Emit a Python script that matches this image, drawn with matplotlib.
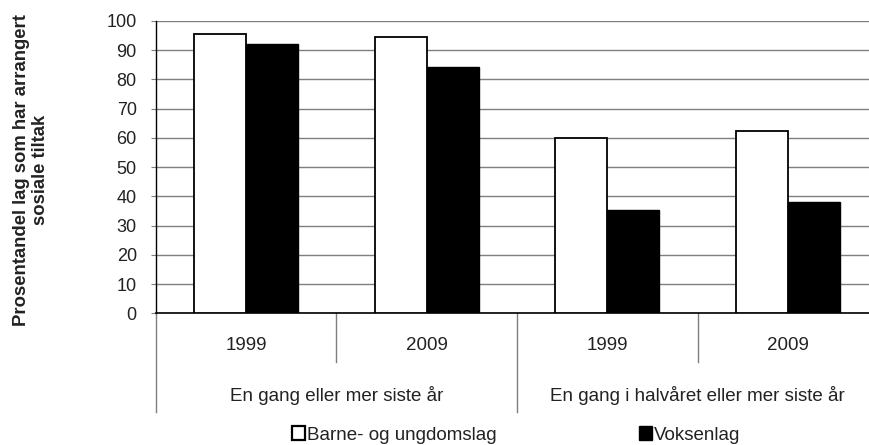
import matplotlib
matplotlib.use("Agg")
import matplotlib.pyplot as plt
from matplotlib.patches import Patch
import numpy as np

years = ["1999", "2009", "1999", "2009"]
groups = ["En gang eller mer siste år", "En gang i halvåret eller mer siste år"]
series_names = ["Barne- og ungdomslag", "Voksenlag"]
barne = [95.4, 94.5, 59.8, 62.4]
voksen = [92.2, 84.1, 35.3, 38.1]
yticks = [0, 10, 20, 30, 40, 50, 60, 70, 80, 90, 100]
ylabel = "Prosentandel lag som har arrangert\nsosiale tiltak"

plt.rcParams['font.family'] = ['Liberation Sans', 'DejaVu Sans']

W, H = 870, 445
fig = plt.figure(figsize=(W/100, H/100), dpi=100)
left, right, top, bottom = 155.7, 878.5, 20.8, 313.3
ax = fig.add_axes([left/W, (H-bottom)/H, (right-left)/W, (bottom-top)/H])

x = np.arange(len(years))
w = 0.288
ax.bar(x - w/2, barne, w, color='white', edgecolor='black', linewidth=1.3, zorder=3)
ax.bar(x + w/2, voksen, w, color='black', edgecolor='black', linewidth=1.0, zorder=3)

ax.set_xlim(-0.5, len(years) - 0.5)
ax.set_ylim(0, 100)
ax.set_yticks(yticks)
ax.yaxis.grid(True, color='#7f7f7f', linewidth=1.0, zorder=0)
ax.set_axisbelow(True)
ax.set_xticks([])
for s in ['top', 'right']:
    ax.spines[s].set_visible(False)
ax.spines['left'].set_color('black')
ax.spines['bottom'].set_color('black')
ax.spines['left'].set_linewidth(1.0)
ax.spines['bottom'].set_linewidth(1.2)
ax.tick_params(axis='y', direction='out', length=3.6, color='#7f7f7f',
               labelsize=13, pad=10, labelcolor='#222222')

tr = ax.get_xaxis_transform()
hpx = bottom - top
inner_end = -(362 - bottom) / hpx
outer_end = -(412 - bottom) / hpx
for xv in [0.5, 2.5]:
    ax.plot([xv, xv], [0, inner_end], transform=tr, color='#7f7f7f', lw=1.0, clip_on=False)
for xv in [-0.5, 1.5, 3.5]:
    ax.plot([xv, xv], [0, outer_end], transform=tr, color='#7f7f7f', lw=1.0, clip_on=False)

for xi, yr in zip(x, years):
    ax.text(xi, -(346 - bottom) / hpx, yr, transform=tr, ha='center', va='center',
            fontsize=13.5, color='#222222')
for gi, g in enumerate(groups):
    ax.text(2*gi + 0.5, -(395.7 - bottom) / hpx, g, transform=tr, ha='center', va='center',
            fontsize=13.5, color='#222222')

fig.text(31/W, (H-170)/H, ylabel, rotation=90, ha='center', va='center',
         fontsize=13.3, fontweight='bold', multialignment='center', linespacing=1.1,
         color='#222222')

handles = [Patch(facecolor='white', edgecolor='black', linewidth=1.6),
           Patch(facecolor='black', edgecolor='black')]
fig.legend(handles, series_names, loc='center left', bbox_to_anchor=(291.7/W, (H-435)/H),
           ncol=2, frameon=False, fontsize=13.5, handlelength=0.7, handleheight=0.7,
           handletextpad=0.1, columnspacing=7.6, borderpad=0, borderaxespad=0,
           labelcolor='#222222')

fig.savefig("out.png", dpi=100)
